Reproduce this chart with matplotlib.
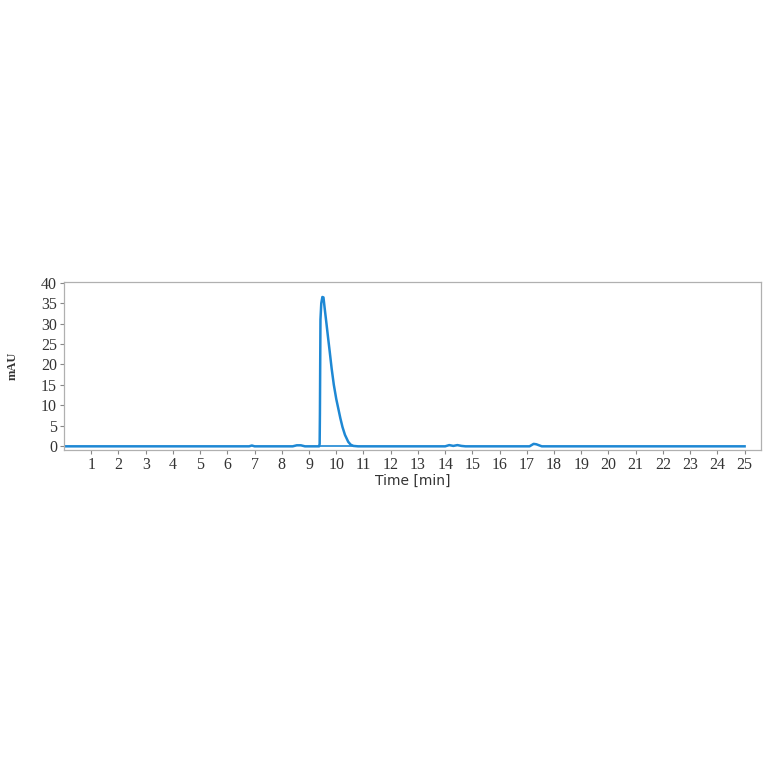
import matplotlib
matplotlib.use("Agg")
import matplotlib.pyplot as plt

# Chromatogram trace (time in min, absorbance in mAU)
time_min = [0.0, 6.80, 6.90, 7.00, 8.40, 8.55, 8.70, 8.85, 9.37, 9.39, 9.40, 9.41,
            9.42, 9.45, 9.49, 9.53, 9.57, 9.64, 9.70, 9.76, 9.83, 9.91, 10.00,
            10.08, 10.15, 10.23, 10.32, 10.44, 10.53, 10.63, 10.80, 14.00, 14.15,
            14.30, 14.45, 14.60, 14.75, 17.10, 17.25, 17.35, 17.55, 25.0]
mau = [-0.1, -0.1, 0.1, -0.1, -0.1, 0.15, 0.15, -0.1, -0.1, 0.5, 8.0, 20.0,
       31.0, 35.0, 36.5, 36.4, 34.0, 30.0, 26.5, 23.1, 19.0, 15.0, 11.5,
       9.0, 6.8, 4.6, 2.7, 1.0, 0.3, 0.0, -0.1, -0.1, 0.2,
       0.0, 0.2, 0.0, -0.1, -0.1, 0.5, 0.4, -0.1, -0.1]

# Integration baseline under the main peak
base_t = [9.38, 10.70]
base_v = [0.0, 0.0]

x_ticks = list(range(1, 26))
y_ticks = [0, 5, 10, 15, 20, 25, 30, 35, 40]

fig = plt.figure(figsize=(7.64, 7.64), dpi=100)
ax = fig.add_axes([0.0838, 0.411, 0.9122, 0.220])

color = "#1e88d4"
ax.plot(time_min, mau, color=color, lw=1.8, solid_joinstyle="round")
ax.plot(base_t, base_v, color=color, lw=1.2)

ax.set_xlim(0, 25.6)
ax.set_ylim(-1.0, 40.2)
ax.set_xticks(x_ticks)
ax.set_yticks(y_ticks)

serif = ["Liberation Serif", "DejaVu Serif"]
ax.set_xticklabels([str(v) for v in x_ticks], family=serif, fontsize=11.5, color="#333333")
ax.set_yticklabels([str(v) for v in y_ticks], family=serif, fontsize=11.5, color="#333333")
ax.tick_params(axis="both", length=3, width=0.8, color="#888888", pad=2)

for s in ax.spines.values():
    s.set_color("#b0b0b0")
    s.set_linewidth(0.9)

ax.set_xlabel("Time [min]", fontsize=10, family=["DejaVu Sans"], color="#333333", labelpad=1)
fig.text(0.016, 0.521, "mAU", rotation=90, fontsize=9, fontweight="bold",
         family=serif, color="#333333", va="center", ha="center")

fig.savefig("out.png", dpi=100, facecolor="white")
